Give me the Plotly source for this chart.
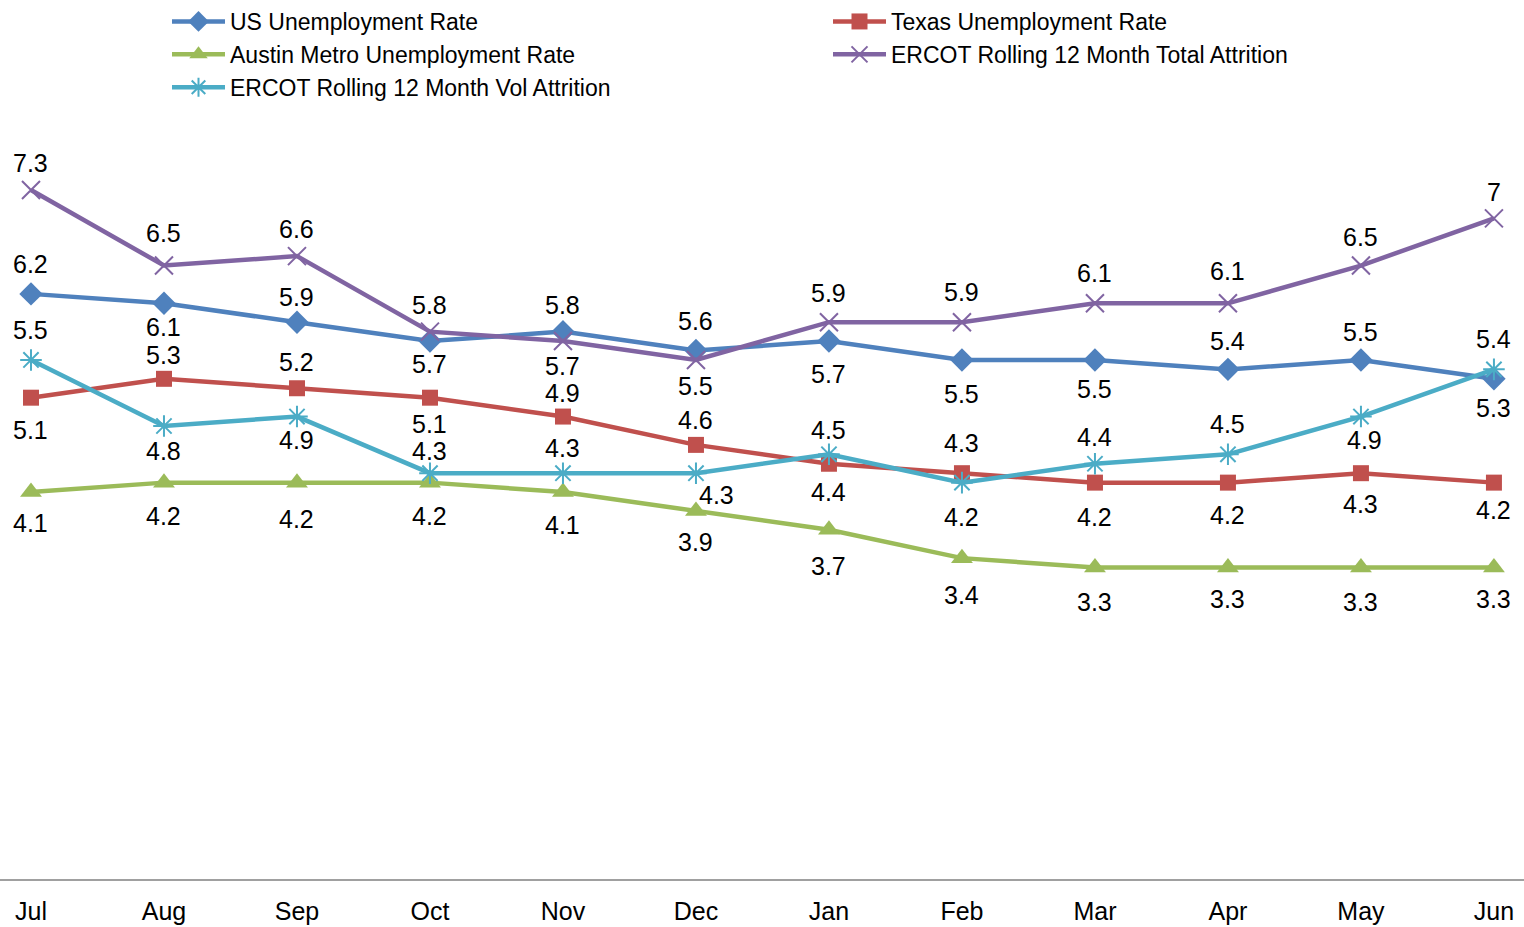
import plotly.graph_objects as go

months = ["Jul", "Aug", "Sep", "Oct", "Nov", "Dec", "Jan", "Feb", "Mar", "Apr", "May", "Jun"]

us_rate = [6.2, 6.1, 5.9, 5.7, 5.8, 5.6, 5.7, 5.5, 5.5, 5.4, 5.5, 5.3]
texas_rate = [5.1, 5.3, 5.2, 5.1, 4.9, 4.6, 4.4, 4.3, 4.2, 4.2, 4.3, 4.2]
austin_rate = [4.1, 4.2, 4.2, 4.2, 4.1, 3.9, 3.7, 3.4, 3.3, 3.3, 3.3, 3.3]
ercot_total = [7.3, 6.5, 6.6, 5.8, 5.7, 5.5, 5.9, 5.9, 6.1, 6.1, 6.5, 7]
ercot_vol = [5.5, 4.8, 4.9, 4.3, 4.3, 4.3, 4.5, 4.2, 4.4, 4.5, 4.9, 5.4]

series_names = [
    "US Unemployment Rate",
    "Texas Unemployment Rate",
    "Austin Metro Unemployment Rate",
    "ERCOT Rolling 12 Month Total Attrition",
    "ERCOT Rolling 12 Month Vol Attrition",
]

# label offsets in pixels (positive = below the marker), styling only
dy_us = [-30, 24, -25, 23, -27, -30, 33, 34, 29, -28, -28, 29]
dy_texas = [32, -24, -26, 26, -24, -25, 28, -30, 34, 32, 31, 27]
dy_austin = [31, 33, 36, 33, 33, 31, 36, 37, 34, 31, 34, 31]
dy_total = [-27, -33, -27, -27, 25, 26, -29, -30, -30, -32, -29, -26]
dy_vol = [-30, 25, 23, -22, -25, 22, -24, 34, -27, -30, 23, -30]
dx_vol = [0, 0, 0, 0, 0, 21, 0, 0, 0, 0, 4, 0]

FONT = "Liberation Sans, Arial, sans-serif"
FS = 25

styles = [
    dict(color="#4F81BD", symbol="diamond", size=18, mline=0, legend="legend"),
    dict(color="#C0504D", symbol="square", size=16, mline=0, legend="legend2"),
    dict(color="#9BBB59", symbol="triangle-up", size=19, mline=0, legend="legend"),
    dict(color="#8064A2", symbol="x-thin-open", size=18, mline=2, legend="legend2"),
    dict(color="#4BACC6", symbol="asterisk-open", size=18, mline=2, legend="legend"),
]

all_values = [us_rate, texas_rate, austin_rate, ercot_total, ercot_vol]
all_dy = [dy_us, dy_texas, dy_austin, dy_total, dy_vol]
all_dx = [[0] * 12, [0] * 12, [0] * 12, [0] * 12, dx_vol]

fig = go.Figure()
annotations = []
for name, vals, st, dys, dxs in zip(series_names, all_values, styles, all_dy, all_dx):
    fig.add_trace(go.Scatter(
        x=months, y=vals, name=name, mode="lines+markers",
        line=dict(color=st["color"], width=4.5),
        marker=dict(symbol=st["symbol"], size=st["size"], color=st["color"],
                    line=dict(color=st["color"], width=st["mline"])),
        cliponaxis=False, legend=st["legend"],
    ))
    for m, v, dy, dx in zip(months, vals, dys, dxs):
        annotations.append(dict(
            x=m, y=v, text=f"{v:g}", showarrow=False, xshift=dx, yshift=-dy,
            font=dict(family=FONT, size=FS, color="black"),
            xanchor="center", yanchor="middle",
        ))

W, H = 1524, 927
T, B = 120, 48
PH = H - T - B

legend_common = dict(
    orientation="v", yanchor="top", xanchor="left",
    font=dict(family=FONT, size=23, color="black"),
    itemwidth=53, tracegroupgap=0, bgcolor="rgba(0,0,0,0)", borderwidth=0,
)

fig.update_layout(
    width=W, height=H,
    margin=dict(l=0, r=0, t=T, b=B),
    paper_bgcolor="white", plot_bgcolor="white",
    font=dict(family=FONT, size=FS, color="black"),
    annotations=annotations,
    showlegend=True,
    legend=dict(x=167 / W, y=1 + (T + 5) / PH, **legend_common),
    legend2=dict(x=828 / W, y=1 + (T + 5) / PH, **legend_common),
    xaxis=dict(
        type="category", range=[-0.233, 11.226],
        showgrid=False, zeroline=False,
        showline=True, linecolor="#A0A0A0", linewidth=2,
        ticks="", ticklabelstandoff=9,
        tickfont=dict(family=FONT, size=FS, color="black"),
        fixedrange=True,
    ),
    yaxis=dict(
        range=[0, 8], showgrid=False, zeroline=False, showline=False,
        showticklabels=False, ticks="", fixedrange=True,
    ),
)

fig.write_html(
    "out.html",
    config={"displayModeBar": False},
    post_script="document.body.style.margin='0';document.body.style.overflow='hidden';",
)
